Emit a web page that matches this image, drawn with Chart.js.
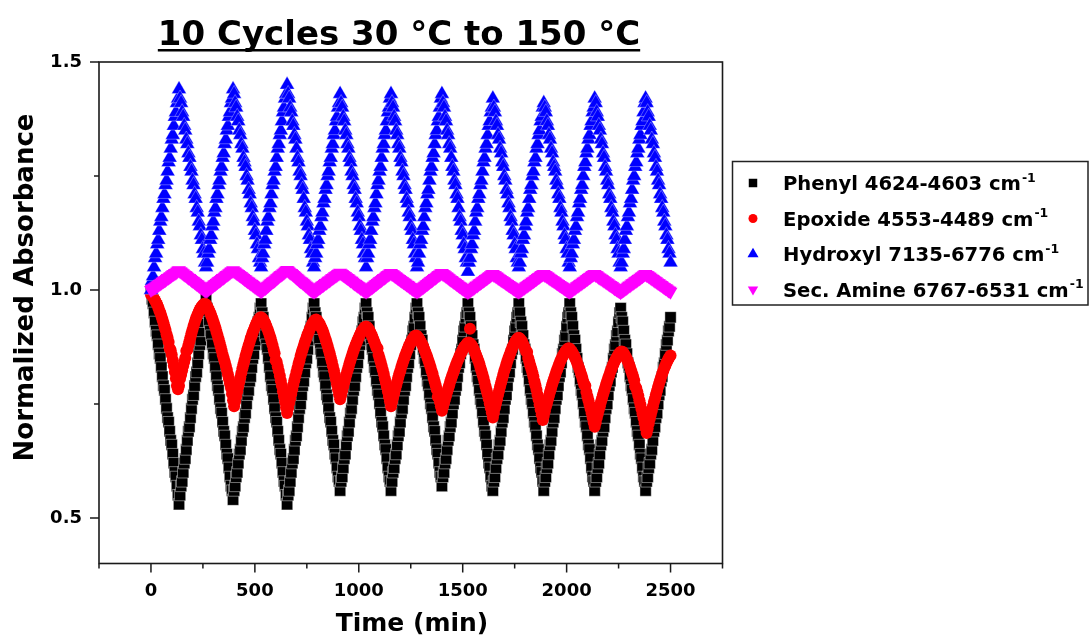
<!DOCTYPE html>
<html>
<head>
<meta charset="utf-8">
<title>10 Cycles 30 °C to 150 °C</title>
<script src="https://cdn.jsdelivr.net/npm/chart.js@4.4.1/dist/chart.umd.min.js"></script>
<style>
  html, body { margin: 0; padding: 0; background: #ffffff; }
  #plot { display: block; }
</style>
</head>
<body>
<canvas id="plot" width="1089" height="641"></canvas>
<script>
const timeMin = [
  0,5,10,15,20,25,30,35,40,45,50,55,60,65,70,75,80,85,90,95,
  100,105,110,115,120,125,130,135,140,145,150,155,160,165,170,175,180,185,190,195,
  200,205,210,215,220,225,230,235,240,245,250,255,260,265,270,275,280,285,290,295,
  300,305,310,315,320,325,330,335,340,345,350,355,360,365,370,375,380,385,390,395,
  400,405,410,415,420,425,430,435,440,445,450,455,460,465,470,475,480,485,490,495,
  500,505,510,515,520,525,530,535,540,545,550,555,560,565,570,575,580,585,590,595,
  600,605,610,615,620,625,630,635,640,645,650,655,660,665,670,675,680,685,690,695,
  700,705,710,715,720,725,730,735,740,745,750,755,760,765,770,775,780,785,790,795,
  800,805,810,815,820,825,830,835,840,845,850,855,860,865,870,875,880,885,890,895,
  900,905,910,915,920,925,930,935,940,945,950,955,960,965,970,975,980,985,990,995,
  1000,1005,1010,1015,1020,1025,1030,1035,1040,1045,1050,1055,1060,1065,1070,1075,1080,1085,1090,1095,
  1100,1105,1110,1115,1120,1125,1130,1135,1140,1145,1150,1155,1160,1165,1170,1175,1180,1185,1190,1195,
  1200,1205,1210,1215,1220,1225,1230,1235,1240,1245,1250,1255,1260,1265,1270,1275,1280,1285,1290,1295,
  1300,1305,1310,1315,1320,1325,1330,1335,1340,1345,1350,1355,1360,1365,1370,1375,1380,1385,1390,1395,
  1400,1405,1410,1415,1420,1425,1430,1435,1440,1445,1450,1455,1460,1465,1470,1475,1480,1485,1490,1495,
  1500,1505,1510,1515,1520,1525,1530,1535,1540,1545,1550,1555,1560,1565,1570,1575,1580,1585,1590,1595,
  1600,1605,1610,1615,1620,1625,1630,1635,1640,1645,1650,1655,1660,1665,1670,1675,1680,1685,1690,1695,
  1700,1705,1710,1715,1720,1725,1730,1735,1740,1745,1750,1755,1760,1765,1770,1775,1780,1785,1790,1795,
  1800,1805,1810,1815,1820,1825,1830,1835,1840,1845,1850,1855,1860,1865,1870,1875,1880,1885,1890,1895,
  1900,1905,1910,1915,1920,1925,1930,1935,1940,1945,1950,1955,1960,1965,1970,1975,1980,1985,1990,1995,
  2000,2005,2010,2015,2020,2025,2030,2035,2040,2045,2050,2055,2060,2065,2070,2075,2080,2085,2090,2095,
  2100,2105,2110,2115,2120,2125,2130,2135,2140,2145,2150,2155,2160,2165,2170,2175,2180,2185,2190,2195,
  2200,2205,2210,2215,2220,2225,2230,2235,2240,2245,2250,2255,2260,2265,2270,2275,2280,2285,2290,2295,
  2300,2305,2310,2315,2320,2325,2330,2335,2340,2345,2350,2355,2360,2365,2370,2375,2380,2385,2390,2395,
  2400,2405,2410,2415,2420,2425,2430,2435,2440,2445,2450,2455,2460,2465,2470,2475,2480,2485,2490,2495,
  2500
];

const phenyl = [
  1.00,0.98,0.97,0.95,0.93,0.91,0.90,0.88,0.86,0.85,0.83,0.81,0.79,0.78,0.76,0.74,0.72,0.71,0.69,0.67,0.66,0.64,0.62,0.60,0.59,0.57,0.55,0.53,
  0.55,0.57,0.58,0.60,0.62,0.63,0.65,0.67,0.69,0.70,0.72,0.74,0.76,0.77,0.79,0.81,0.82,0.84,0.86,0.88,0.89,0.91,0.93,0.95,0.96,0.98,
  0.96,0.95,0.93,0.91,0.90,0.88,0.86,0.85,0.83,0.81,0.79,0.78,0.76,0.74,0.73,0.71,0.69,0.68,0.66,0.64,0.63,0.61,0.59,0.57,0.56,0.54,
  0.56,0.57,0.59,0.60,0.62,0.64,0.65,0.67,0.69,0.70,0.72,0.73,0.75,0.77,0.78,0.80,0.81,0.83,0.85,0.86,0.88,0.89,0.91,0.93,0.94,0.96,0.97,
  0.95,0.94,0.92,0.90,0.88,0.87,0.85,0.83,0.81,0.79,0.78,0.76,0.74,0.72,0.71,0.69,0.67,0.65,0.64,0.62,0.60,0.58,0.57,0.55,0.53,
  0.55,0.56,0.58,0.60,0.62,0.63,0.65,0.67,0.68,0.70,0.72,0.74,0.75,0.77,0.79,0.80,0.82,0.84,0.85,0.87,0.89,0.91,0.92,0.94,0.96,0.97,
  0.95,0.94,0.92,0.90,0.89,0.87,0.86,0.84,0.82,0.81,0.79,0.77,0.76,0.74,0.72,0.71,0.69,0.67,0.66,0.64,0.63,0.61,0.59,0.58,0.56,
  0.58,0.59,0.61,0.63,0.64,0.66,0.68,0.69,0.71,0.73,0.74,0.76,0.78,0.79,0.81,0.83,0.84,0.86,0.88,0.89,0.91,0.93,0.94,0.96,0.97,
  0.95,0.94,0.92,0.90,0.88,0.87,0.85,0.83,0.82,0.80,0.78,0.77,0.75,0.73,0.71,0.70,0.68,0.66,0.65,0.63,0.61,0.59,0.58,0.56,
  0.58,0.60,0.61,0.63,0.64,0.66,0.68,0.69,0.71,0.73,0.74,0.76,0.78,0.79,0.81,0.83,0.84,0.86,0.88,0.89,0.91,0.92,0.94,0.96,0.97,
  0.95,0.94,0.92,0.90,0.89,0.87,0.85,0.84,0.82,0.80,0.79,0.77,0.75,0.74,0.72,0.70,0.69,0.67,0.65,0.64,0.62,0.60,0.59,0.57,
  0.59,0.60,0.62,0.63,0.65,0.67,0.68,0.70,0.71,0.73,0.75,0.76,0.78,0.79,0.81,0.83,0.84,0.86,0.87,0.89,0.91,0.92,0.94,0.95,0.97,
  0.95,0.94,0.92,0.90,0.88,0.87,0.85,0.83,0.81,0.80,0.78,0.76,0.75,0.73,0.71,0.69,0.68,0.66,0.64,0.62,0.61,0.59,0.57,0.56,
  0.58,0.59,0.61,0.63,0.64,0.66,0.67,0.69,0.71,0.72,0.74,0.76,0.77,0.79,0.81,0.82,0.84,0.86,0.87,0.89,0.91,0.92,0.94,0.95,0.97,
  0.95,0.93,0.92,0.90,0.88,0.87,0.85,0.83,0.82,0.80,0.78,0.76,0.75,0.73,0.71,0.70,0.68,0.66,0.65,0.63,0.61,0.60,0.58,0.56,
  0.58,0.59,0.61,0.62,0.64,0.66,0.67,0.69,0.71,0.72,0.74,0.76,0.77,0.79,0.81,0.82,0.84,0.86,0.87,0.89,0.90,0.92,0.94,0.95,0.97,
  0.95,0.94,0.92,0.90,0.89,0.87,0.85,0.83,0.82,0.80,0.78,0.77,0.75,0.73,0.71,0.70,0.68,0.66,0.65,0.63,0.61,0.59,0.58,0.56,
  0.58,0.59,0.61,0.62,0.64,0.66,0.67,0.69,0.70,0.72,0.74,0.75,0.77,0.79,0.80,0.82,0.83,0.85,0.87,0.88,0.90,0.91,0.93,0.95,0.96,
  0.94,0.93,0.91,0.89,0.88,0.86,0.84,0.83,0.81,0.79,0.78,0.76,0.74,0.73,0.71,0.69,0.68,0.66,0.64,0.63,0.61,0.59,0.58,0.56,
  0.58,0.59,0.61,0.62,0.64,0.65,0.67,0.69,0.70,0.72,0.73,0.75,0.77,0.78,0.80,0.81,0.83,0.84,0.86,0.88,0.89,0.91,0.92,0.94
];

const epoxide = [
  0.99,0.988,0.985,0.98,0.977,0.972,0.968,0.962,0.955,0.95,0.943,0.936,0.928,0.92,0.912,0.903,0.895,0.886,0.872,0.868,0.858,0.846,0.834,0.82,0.806,0.79,0.782,
  0.79,0.805,0.814,0.824,0.833,0.842,0.851,0.866,0.869,0.878,0.887,0.896,0.905,0.913,0.921,0.928,0.935,0.941,0.947,0.952,0.957,0.961,0.964,0.967,0.969,0.97,
  0.968,0.964,0.96,0.955,0.95,0.944,0.938,0.931,0.924,0.917,0.909,0.901,0.893,0.885,0.876,0.867,0.858,0.85,0.842,0.834,0.825,0.815,0.805,0.795,0.785,0.772,0.758,0.745,
  0.756,0.767,0.778,0.788,0.798,0.808,0.818,0.828,0.837,0.846,0.855,0.863,0.871,0.879,0.886,0.894,0.90,0.907,0.913,0.919,0.924,0.929,0.933,0.936,0.939,0.94,
  0.938,0.935,0.931,0.927,0.921,0.915,0.909,0.902,0.895,0.887,0.879,0.870,0.861,0.846,0.842,0.832,0.822,0.812,0.801,0.790,0.778,0.767,0.755,0.742,0.73,
  0.741,0.752,0.762,0.772,0.782,0.792,0.802,0.811,0.820,0.829,0.838,0.846,0.855,0.863,0.870,0.877,0.885,0.891,0.898,0.904,0.909,0.915,0.920,0.924,0.928,0.931,0.934,0.935,
  0.933,0.930,0.927,0.922,0.917,0.912,0.906,0.899,0.892,0.885,0.877,0.869,0.861,0.852,0.843,0.833,0.824,0.814,0.804,0.793,0.782,0.771,0.76,
  0.769,0.779,0.788,0.797,0.805,0.814,0.822,0.830,0.838,0.846,0.853,0.860,0.867,0.873,0.880,0.885,0.891,0.896,0.901,0.906,0.910,0.913,0.916,0.919,0.92,
  0.918,0.916,0.912,0.908,0.903,0.898,0.892,0.886,0.880,0.873,0.872,0.858,0.850,0.842,0.834,0.825,0.816,0.806,0.797,0.787,0.777,0.766,0.756,0.745,
  0.755,0.764,0.773,0.782,0.791,0.799,0.808,0.816,0.823,0.831,0.838,0.845,0.852,0.858,0.864,0.870,0.876,0.881,0.885,0.889,0.893,0.896,0.899,0.90,
  0.899,0.896,0.893,0.889,0.885,0.881,0.876,0.870,0.864,0.858,0.852,0.845,0.838,0.831,0.823,0.816,0.807,0.799,0.791,0.782,0.766,0.764,0.754,0.745,0.735,
  0.744,0.752,0.760,0.768,0.776,0.784,0.791,0.799,0.806,0.813,0.819,0.826,0.832,0.838,0.844,0.849,0.855,0.860,0.864,0.869,0.873,0.876,0.879,0.882,0.884,0.885,
  0.915,0.881,0.877,0.873,0.868,0.863,0.857,0.851,0.845,0.838,0.830,0.823,0.815,0.807,0.798,0.789,0.780,0.771,0.761,0.751,0.741,0.731,0.72,
  0.730,0.741,0.751,0.760,0.770,0.779,0.788,0.797,0.805,0.814,0.822,0.829,0.837,0.844,0.851,0.857,0.863,0.869,0.875,0.879,0.884,0.888,0.891,0.894,0.895,
  0.893,0.890,0.887,0.882,0.877,0.871,0.865,0.864,0.851,0.843,0.835,0.827,0.819,0.810,0.800,0.791,0.781,0.770,0.760,0.749,0.738,0.727,0.715,
  0.724,0.734,0.743,0.751,0.760,0.768,0.776,0.784,0.792,0.799,0.806,0.813,0.820,0.826,0.832,0.838,0.844,0.849,0.854,0.858,0.862,0.866,0.868,0.871,0.872,
  0.871,0.868,0.865,0.861,0.857,0.852,0.847,0.841,0.835,0.829,0.822,0.815,0.808,0.800,0.792,0.790,0.776,0.767,0.758,0.749,0.740,0.730,0.720,0.710,0.70,
  0.709,0.719,0.728,0.737,0.745,0.754,0.762,0.770,0.778,0.785,0.793,0.800,0.807,0.813,0.820,0.826,0.832,0.837,0.842,0.847,0.851,0.855,0.859,0.862,0.864,0.865,
  0.864,0.861,0.857,0.853,0.848,0.843,0.837,0.831,0.824,0.817,0.810,0.802,0.788,0.785,0.777,0.768,0.758,0.749,0.739,0.729,0.719,0.708,0.697,0.686,
  0.696,0.707,0.717,0.726,0.735,0.745,0.754,0.762,0.771,0.779,0.787,0.795,0.802,0.809,0.816,0.822,0.829,0.834,0.840,0.844,0.849,0.853,0.856
];

const hydroxyl = [
  1.00,1.02,1.03,1.05,1.07,1.08,1.10,1.11,1.13,1.15,1.16,1.18,1.20,1.21,1.23,1.24,1.26,1.28,1.29,1.31,1.33,1.34,1.36,1.38,1.39,1.41,1.42,1.44,
  1.42,1.41,1.39,1.38,1.36,1.35,1.33,1.32,1.30,1.29,1.27,1.26,1.24,1.23,1.21,1.20,1.18,1.17,1.15,1.14,1.12,1.11,1.09,1.08,1.06,1.05,
  1.06,1.08,1.09,1.11,1.12,1.14,1.15,1.17,1.18,1.20,1.21,1.23,1.24,1.26,1.27,1.29,1.30,1.32,1.33,1.35,1.36,1.38,1.39,1.41,1.42,1.44,
  1.43,1.41,1.40,1.38,1.37,1.35,1.34,1.32,1.31,1.29,1.28,1.27,1.25,1.24,1.22,1.21,1.19,1.18,1.16,1.15,1.13,1.12,1.10,1.09,1.07,1.06,1.05,
  1.07,1.08,1.10,1.11,1.13,1.15,1.16,1.18,1.19,1.21,1.23,1.24,1.26,1.27,1.29,1.31,1.32,1.34,1.35,1.37,1.39,1.40,1.42,1.43,1.45,
  1.43,1.42,1.40,1.39,1.37,1.36,1.34,1.33,1.31,1.29,1.28,1.26,1.25,1.23,1.22,1.20,1.18,1.17,1.15,1.14,1.12,1.11,1.09,1.08,1.06,1.05,
  1.07,1.08,1.10,1.11,1.13,1.14,1.16,1.17,1.19,1.20,1.22,1.23,1.25,1.26,1.28,1.29,1.31,1.32,1.34,1.35,1.37,1.38,1.40,1.41,1.43,
  1.41,1.40,1.38,1.37,1.35,1.34,1.32,1.31,1.29,1.28,1.26,1.25,1.23,1.22,1.20,1.19,1.17,1.16,1.14,1.13,1.11,1.10,1.08,1.07,1.05,
  1.07,1.08,1.10,1.11,1.13,1.15,1.16,1.18,1.19,1.21,1.23,1.24,1.26,1.27,1.29,1.31,1.32,1.34,1.35,1.37,1.39,1.40,1.42,1.43,
  1.41,1.40,1.38,1.37,1.35,1.34,1.32,1.31,1.29,1.28,1.26,1.25,1.23,1.22,1.20,1.19,1.17,1.16,1.14,1.13,1.11,1.10,1.08,1.07,1.05,
  1.06,1.08,1.10,1.11,1.13,1.14,1.16,1.18,1.19,1.21,1.22,1.24,1.26,1.27,1.29,1.30,1.32,1.34,1.35,1.37,1.38,1.40,1.42,1.43,
  1.41,1.40,1.38,1.37,1.35,1.34,1.32,1.31,1.29,1.27,1.26,1.24,1.23,1.21,1.20,1.18,1.16,1.15,1.13,1.12,1.10,1.09,1.07,1.06,1.04,
  1.06,1.07,1.09,1.10,1.12,1.13,1.15,1.17,1.18,1.20,1.21,1.23,1.24,1.26,1.28,1.29,1.31,1.32,1.34,1.36,1.37,1.39,1.40,1.42,
  1.40,1.39,1.37,1.36,1.34,1.33,1.31,1.30,1.28,1.27,1.25,1.24,1.22,1.21,1.19,1.18,1.16,1.15,1.13,1.12,1.10,1.09,1.07,1.06,1.05,
  1.06,1.08,1.09,1.11,1.12,1.14,1.15,1.17,1.18,1.20,1.22,1.23,1.25,1.26,1.28,1.29,1.31,1.32,1.34,1.35,1.37,1.38,1.40,1.41,
  1.40,1.39,1.37,1.36,1.34,1.33,1.31,1.30,1.28,1.27,1.26,1.24,1.23,1.21,1.20,1.18,1.17,1.15,1.14,1.12,1.11,1.09,1.08,1.06,1.05,
  1.07,1.08,1.10,1.11,1.13,1.14,1.16,1.17,1.19,1.20,1.22,1.23,1.25,1.27,1.28,1.30,1.31,1.33,1.34,1.36,1.37,1.39,1.40,1.42,
  1.41,1.39,1.38,1.36,1.35,1.33,1.32,1.30,1.29,1.27,1.26,1.24,1.23,1.21,1.20,1.18,1.17,1.15,1.14,1.12,1.11,1.09,1.08,1.06,1.05,
  1.06,1.08,1.09,1.11,1.13,1.14,1.16,1.17,1.19,1.20,1.22,1.24,1.25,1.27,1.28,1.30,1.31,1.33,1.34,1.36,1.37,1.39,1.41,1.42,
  1.41,1.39,1.38,1.36,1.35,1.33,1.32,1.30,1.29,1.27,1.26,1.24,1.23,1.21,1.20,1.18,1.17,1.15,1.14,1.12,1.11,1.09,1.08,1.06
];

const secAmine = [
  1.000,1.002,1.003,1.005,1.006,1.008,1.010,1.011,1.013,1.014,1.016,1.018,1.019,1.021,1.022,1.024,1.026,1.027,1.029,1.030,1.032,1.034,1.035,1.037,1.038,1.040,1.042,1.043,
  1.041,1.040,1.038,1.036,1.034,1.033,1.031,1.029,1.027,1.026,1.024,1.022,1.020,1.019,1.017,1.015,1.013,1.012,1.010,1.008,1.006,1.005,1.003,1.001,0.999,0.998,
  0.999,1.001,1.003,1.005,1.006,1.008,1.010,1.012,1.013,1.015,1.017,1.019,1.020,1.022,1.024,1.026,1.027,1.029,1.031,1.033,1.034,1.036,1.038,1.040,1.041,1.043,
  1.041,1.040,1.038,1.036,1.035,1.033,1.031,1.030,1.028,1.026,1.024,1.023,1.021,1.019,1.018,1.016,1.014,1.013,1.011,1.009,1.007,1.006,1.004,1.002,1.001,0.999,0.997,
  0.999,1.001,1.003,1.004,1.006,1.008,1.010,1.012,1.014,1.016,1.018,1.019,1.021,1.023,1.025,1.027,1.029,1.031,1.033,1.034,1.036,1.038,1.040,1.042,1.044,
  1.042,1.040,1.038,1.037,1.035,1.033,1.031,1.029,1.027,1.025,1.023,1.021,1.019,1.018,1.016,1.014,1.012,1.010,1.008,1.006,1.004,1.002,1.000,0.999,0.997,0.996,
  0.998,0.999,1.001,1.003,1.005,1.006,1.008,1.010,1.011,1.013,1.015,1.016,1.018,1.020,1.021,1.023,1.025,1.026,1.028,1.030,1.031,1.033,1.035,1.036,1.038,
  1.036,1.035,1.033,1.031,1.030,1.028,1.026,1.025,1.023,1.021,1.020,1.018,1.016,1.014,1.013,1.011,1.009,1.008,1.006,1.004,1.003,1.001,0.999,0.998,0.996,
  0.998,0.999,1.001,1.003,1.005,1.006,1.008,1.010,1.012,1.013,1.015,1.017,1.019,1.020,1.022,1.024,1.026,1.027,1.029,1.031,1.033,1.034,1.036,1.037,
  1.035,1.034,1.032,1.030,1.029,1.027,1.025,1.024,1.022,1.020,1.019,1.017,1.016,1.014,1.012,1.011,1.009,1.007,1.006,1.004,1.002,1.001,0.999,0.998,0.996,
  0.998,0.999,1.001,1.003,1.005,1.006,1.008,1.010,1.012,1.013,1.015,1.017,1.019,1.020,1.022,1.024,1.026,1.027,1.029,1.031,1.033,1.034,1.036,1.037,
  1.035,1.034,1.032,1.030,1.029,1.027,1.025,1.023,1.022,1.020,1.018,1.017,1.015,1.013,1.012,1.010,1.008,1.007,1.005,1.003,1.002,1.000,0.998,0.997,0.995,
  0.997,0.998,1.000,1.002,1.003,1.005,1.007,1.009,1.010,1.012,1.014,1.015,1.017,1.019,1.020,1.022,1.024,1.025,1.027,1.029,1.030,1.032,1.034,1.035,
  1.033,1.032,1.030,1.029,1.027,1.025,1.024,1.022,1.021,1.019,1.018,1.016,1.014,1.013,1.011,1.010,1.008,1.007,1.005,1.003,1.002,1.000,0.999,0.997,0.996,
  0.998,0.999,1.001,1.003,1.004,1.006,1.008,1.009,1.011,1.013,1.014,1.016,1.018,1.019,1.021,1.023,1.024,1.026,1.028,1.029,1.031,1.033,1.034,1.035,
  1.033,1.032,1.030,1.029,1.027,1.025,1.024,1.022,1.021,1.019,1.018,1.016,1.014,1.013,1.011,1.010,1.008,1.007,1.005,1.003,1.002,1.000,0.999,0.997,0.996,
  0.998,0.999,1.001,1.003,1.004,1.006,1.008,1.009,1.011,1.013,1.014,1.016,1.018,1.019,1.021,1.023,1.024,1.026,1.028,1.029,1.031,1.033,1.034,1.035,
  1.033,1.032,1.030,1.028,1.027,1.025,1.024,1.022,1.020,1.019,1.017,1.016,1.014,1.012,1.011,1.009,1.008,1.006,1.004,1.003,1.001,1.000,0.998,0.997,0.995,
  0.997,0.998,1.000,1.002,1.003,1.005,1.007,1.009,1.010,1.012,1.014,1.015,1.017,1.019,1.020,1.022,1.024,1.025,1.027,1.029,1.030,1.032,1.034,1.035,
  1.033,1.032,1.030,1.029,1.027,1.025,1.024,1.022,1.020,1.019,1.017,1.015,1.014,1.012,1.011,1.009,1.007,1.006,1.004,1.003,1.001,0.999,0.998,0.996
];

const seriesNames = ["Phenyl 4624-4603", "Epoxide 4553-4489", "Hydroxyl 7135-6776", "Sec. Amine 6767-6531"];
const unitText = "cm";
const unitExp = "-1";

const xMajorTicks = [0, 500, 1000, 1500, 2000, 2500];
const xMinorTicks = [-250, 250, 750, 1250, 1750, 2250, 2750];
const yMajorTicks = [0.5, 1.0, 1.5];
const yMinorTicks = [0.75, 1.25];

const titleText = "10 Cycles 30 °C to 150 °C";
const xTitle = "Time (min)";
const yTitle = "Normalized Absorbance";

const FAMILY = '"DejaVu Sans", "Liberation Sans", sans-serif';
const INK = "#000000";

function toPoints(values) {
  return values.map((v, i) => ({ x: timeMin[i], y: v }));
}

function drawMarker(ctx, ds, x, y, scale) {
  const r = ds.pointRadius * scale;
  ctx.save();
  ctx.translate(x, y);
  ctx.rotate(((ds.rotation || 0) * Math.PI) / 180);
  ctx.fillStyle = ds.backgroundColor;
  ctx.beginPath();
  if (ds.pointStyle === "rect") {
    const s = r * Math.SQRT1_2;
    ctx.rect(-s, -s, 2 * s, 2 * s);
  } else if (ds.pointStyle === "circle") {
    ctx.arc(0, 0, r, 0, Math.PI * 2);
  } else {
    for (let k = 0; k < 3; k++) {
      const a = (k * 2 * Math.PI) / 3;
      ctx.lineTo(Math.sin(a) * r, -Math.cos(a) * r);
    }
    ctx.closePath();
  }
  ctx.fill();
  ctx.restore();
}

// frame, minor/major tick marks, titles and the legend box
const decorations = {
  id: "decorations",
  afterDraw(chart) {
    const { ctx, chartArea: a } = chart;
    const x = chart.scales.x;
    const y = chart.scales.y;
    ctx.save();

    ctx.strokeStyle = "#1a1a1a";
    ctx.lineWidth = 1.6;
    ctx.strokeRect(a.left, a.top, a.right - a.left, a.bottom - a.top);

    ctx.lineWidth = 1.5;
    ctx.beginPath();
    xMajorTicks.forEach((v) => {
      const p = x.getPixelForValue(v);
      ctx.moveTo(p, a.bottom);
      ctx.lineTo(p, a.bottom + 9);
    });
    xMinorTicks.forEach((v) => {
      const p = x.getPixelForValue(v);
      ctx.moveTo(p, a.bottom);
      ctx.lineTo(p, a.bottom + 5);
    });
    yMajorTicks.forEach((v) => {
      const p = y.getPixelForValue(v);
      ctx.moveTo(a.left, p);
      ctx.lineTo(a.left - 9, p);
    });
    yMinorTicks.forEach((v) => {
      const p = y.getPixelForValue(v);
      ctx.moveTo(a.left, p);
      ctx.lineTo(a.left - 5, p);
    });
    ctx.stroke();

    ctx.fillStyle = INK;
    ctx.textBaseline = "alphabetic";

    // underlined title
    ctx.font = "bold 34px " + FAMILY;
    ctx.textAlign = "center";
    ctx.fillText(titleText, 399, 45);
    const tw = ctx.measureText(titleText).width;
    ctx.fillRect(399 - tw / 2, 49, tw, 2.5);

    ctx.font = "bold 25px " + FAMILY;
    ctx.fillText(xTitle, 412, 631);

    ctx.save();
    ctx.translate(33, 287.5);
    ctx.rotate(-Math.PI / 2);
    ctx.font = "bold 26px " + FAMILY;
    ctx.fillText(yTitle, 0, 0);
    ctx.restore();

    // legend
    ctx.strokeStyle = "#222222";
    ctx.lineWidth = 1.5;
    ctx.strokeRect(732.5, 161.5, 355.5, 143.5);
    ctx.textAlign = "left";
    chart.data.datasets.forEach((ds, i) => {
      const base = 190 + i * 35.5;
      drawMarker(ctx, ds, 753, base - 7, 0.75);
      ctx.fillStyle = INK;
      ctx.font = "bold 19.6px " + FAMILY;
      const main = ds.label + " " + unitText;
      ctx.fillText(main, 783, base);
      const w = ctx.measureText(main).width;
      ctx.font = "bold 12.5px " + FAMILY;
      ctx.fillText(unitExp, 783 + w + 1, base - 8.5);
    });

    ctx.restore();
  }
};

const tickFont = { family: FAMILY, size: 18, weight: "bold" };

new Chart(document.getElementById("plot"), {
  type: "scatter",
  data: {
    datasets: [
      {
        label: seriesNames[0],
        data: toPoints(phenyl),
        pointStyle: "rect",
        pointRadius: 8,
        backgroundColor: "#000000",
        borderColor: "rgba(255,255,255,0.55)",
        borderWidth: 0.8,
        order: 4
      },
      {
        label: seriesNames[1],
        data: toPoints(epoxide),
        pointStyle: "circle",
        pointRadius: 6,
        backgroundColor: "#ff0000",
        borderWidth: 0,
        order: 3
      },
      {
        label: seriesNames[2],
        data: toPoints(hydroxyl),
        pointStyle: "triangle",
        pointRadius: 8.5,
        backgroundColor: "#0000ff",
        borderColor: "rgba(255,255,255,0.45)",
        borderWidth: 0.7,
        order: 2
      },
      {
        label: seriesNames[3],
        data: toPoints(secAmine),
        pointStyle: "triangle",
        rotation: 180,
        pointRadius: 8,
        backgroundColor: "#ff00ff",
        borderWidth: 0,
        order: 1
      }
    ]
  },
  options: {
    responsive: false,
    devicePixelRatio: 1,
    animation: false,
    events: [],
    layout: { padding: { top: 62, right: 366.5, left: 0, bottom: 0 } },
    plugins: {
      legend: { display: false },
      tooltip: { enabled: false },
      title: { display: false }
    },
    scales: {
      x: {
        type: "linear",
        min: -250,
        max: 2750,
        afterBuildTicks: (s) => { s.ticks = xMajorTicks.map((v) => ({ value: v })); },
        afterFit: (s) => { s.height = 77.5; },
        grid: { display: false, drawTicks: true, tickLength: 9 },
        border: { display: false },
        ticks: {
          padding: 8,
          color: INK,
          font: tickFont,
          maxRotation: 0,
          autoSkip: false,
          callback: (v) => String(v)
        }
      },
      y: {
        type: "linear",
        min: 0.4,
        max: 1.5,
        afterBuildTicks: (s) => { s.ticks = yMajorTicks.map((v) => ({ value: v })); },
        afterFit: (s) => { s.width = 99; },
        grid: { display: false, drawTicks: true, tickLength: 9 },
        border: { display: false },
        ticks: {
          padding: 8,
          color: INK,
          font: tickFont,
          callback: (v) => Number(v).toFixed(1)
        }
      }
    }
  },
  plugins: [decorations]
});
</script>
</body>
</html>
